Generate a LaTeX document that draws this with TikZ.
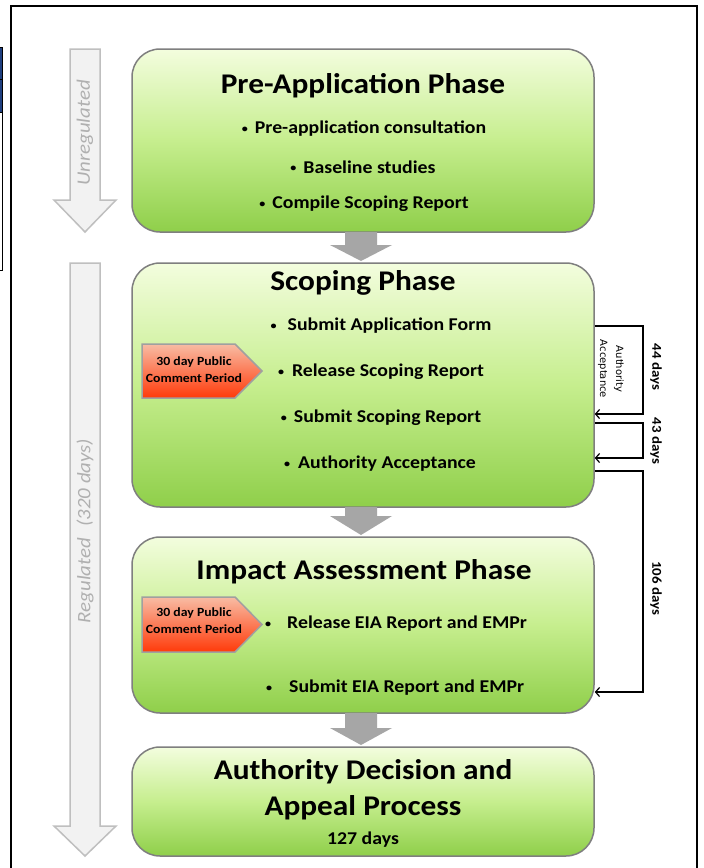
\documentclass[tikz,border=0pt]{standalone}
\usepackage{fontspec}
\setmainfont{Carlito}[FakeStretch=1.1]
\newfontfamily\dejavu{DejaVu Sans}
\usetikzlibrary{arrows.meta,calc}
\definecolor{boxtop}{HTML}{F3FDDE}
\definecolor{boxmid}{HTML}{C6EE8E}
\definecolor{boxbot}{HTML}{8FCF4A}
\definecolor{boxline}{HTML}{7F7F7F}
\definecolor{garrow}{HTML}{A6A6A6}
\definecolor{larrowfill}{HTML}{F2F2F2}
\definecolor{larrowline}{HTML}{BFBFBF}
\definecolor{ltextcol}{HTML}{B0B0B0}
\definecolor{pentop}{HTML}{F8BCA4}
\definecolor{penbot}{HTML}{FF3A0A}
\definecolor{penline}{HTML}{A0A0A0}
\definecolor{artblue}{HTML}{1F3F7F}
\newcommand{\bdot}{\raisebox{1.6pt}{\fontsize{11}{11}\selectfont •}}
\begin{document}
\begin{tikzpicture}[x=1pt,y=-1pt,
  phase/.style={draw=boxline, line width=1.5pt, rounded corners=28pt,
    top color=boxtop, bottom color=boxbot, middle color=boxmid,
    minimum width=462pt, inner sep=0pt},
  ptitle/.style={font=\fontsize{28.5}{30}\selectfont\bfseries, inner sep=0pt},
  bul/.style={font=\fontsize{18}{20}\selectfont\bfseries, inner sep=0pt},
  garr/.style={fill=garrow, draw=none},
  larr/.style={fill=larrowfill, draw=larrowline, line width=1.5pt, line join=miter},
  ltext/.style={font=\fontsize{19}{20}\selectfont\itshape, text=ltextcol, inner sep=0pt},
  pent/.style={draw=penline, line width=1.5pt, top color=pentop, bottom color=penbot},
  pentext/.style={font=\fontsize{12.5}{17}\selectfont\bfseries, align=center, inner sep=0pt},
  conn/.style={line width=1.2pt, -{Straight Barb[length=4pt,width=9pt]}},
  daylbl/.style={font=\fontsize{13.5}{16}\selectfont\bfseries, inner sep=0pt, rotate=-90}
]
\useasboundingbox (0,0) rectangle (704,868);
\fill[white] (0,0) rectangle (704,868);

% left artifact
\fill[artblue] (0,47) rectangle (2.5,112);
\draw[line width=1pt] (0,47) -- (2.5,47) -- (2.5,270) -- (0,270);
\draw[line width=1pt] (0,79) -- (2.5,79);
\draw[line width=1pt] (0,112) -- (2.5,112);

% frame
\draw[line width=1.5pt] (11,870) -- (11,6) -- (697,6) -- (697,870);

% left big arrows
\draw[larr] (70,49) -- (100,49) -- (100,200) -- (116,200) -- (85,232) -- (54,200) -- (70,200) -- cycle;
\node[ltext, rotate=90] (unreg) at (85,133) {Unregulated};
\draw[larr] (70,263) -- (100,263) -- (100,826) -- (116,826) -- (85,856) -- (54,826) -- (70,826) -- cycle;
\node[ltext, rotate=90] (reg) at (85,531) {Regulated\hspace{11pt}(320 days)};

% phase boxes
\node[phase, minimum height=183pt] (pre) at (363,140.5) {};
\node[phase, minimum height=244pt] (scope) at (363,385) {};
\node[phase, minimum height=176pt] (impact) at (363,625) {};
\node[phase, minimum height=109pt] (decision) at (363,801.5) {};

% gray arrows between boxes
\fill[garr] (345,232) -- (377,232) -- (377,245) -- (392,245) -- (361,261) -- (330,245) -- (345,245) -- cycle;
\fill[garr] (345,507) -- (377,507) -- (377,516) -- (392,516) -- (361,535) -- (330,516) -- (345,516) -- cycle;
\fill[garr] (345,713) -- (377,713) -- (377,728) -- (392,728) -- (361,745) -- (330,728) -- (345,728) -- cycle;

% Pre-application
\node[ptitle] (pretitle) at (363,86) {Pre-Application Phase};
\node[bul] (pre1) at (364,129) {\bdot\hspace{7pt}Pre-application consultation};
\node[bul] (pre2) at (363,167) {\bdot\hspace{7pt}Baseline studies};
\node[bul] (pre3) at (364,204) {\bdot\hspace{7pt}Compile Scoping Report};

% Scoping
\node[ptitle] (scopetitle) at (363,283) {Scoping Phase};
\node[bul] (sc1) at (381,326) {\bdot\hspace{11pt}Submit Application Form};
\node[bul] (sc2) at (381,372) {\bdot\hspace{8pt}Release Scoping Report};
\node[bul] (sc3) at (381,418) {\bdot\hspace{7pt}Submit Scoping Report};
\node[bul] (sc4) at (380,464) {\bdot\hspace{8pt}Authority Acceptance};
\draw[pent] (142,344) -- (235,344) -- (262,371) -- (235,398) -- (142,398) -- cycle;
\node[pentext] (pc1) at (194,370) {30 day Public\\Comment Period};

% Impact
\node[ptitle] (imptitle) at (364,572) {Impact Assessment Phase};
\draw[pent] (142,597) -- (235,597) -- (262,624.5) -- (235,652) -- (142,652) -- cycle;
\node[pentext] (pc2) at (194,621) {30 day Public\\Comment Period};
\node[bul, anchor=west] (im1) at (265,624) {\bdot\hspace{16pt}Release EIA Report and EMPr};
\node[bul, anchor=west] (im2) at (266,688) {\bdot\hspace{17pt}Submit EIA Report and EMPr};

% Decision
\node[ptitle] (dec1) at (363,772) {Authority Decision and};
\node[ptitle] (dec2) at (363,808) {Appeal Process};
\node[bul] (dec3) at (363,840) {127 days};

% right connectors
\draw[conn] (scope.east |- 0,326) -| (643,414) -- (scope.east |- 0,414);
\draw[conn] (scope.east |- 0,423) -| (643,458) -- (scope.east |- 0,458);
\draw[conn] (scope.east |- 0,471) -| (643,692) -- (impact.east |- 0,692);
\node[font=\dejavu\fontsize{10}{16}\selectfont, align=center, rotate=-90, inner sep=0pt] (aa) at (611,369) {Authority\\Acceptance};
\node[daylbl] (d44) at (656,367) {44 days};
\node[daylbl] (d43) at (656,441) {43 days};
\node[daylbl] (d106) at (656,588) {106 days};
\end{tikzpicture}
\end{document}
